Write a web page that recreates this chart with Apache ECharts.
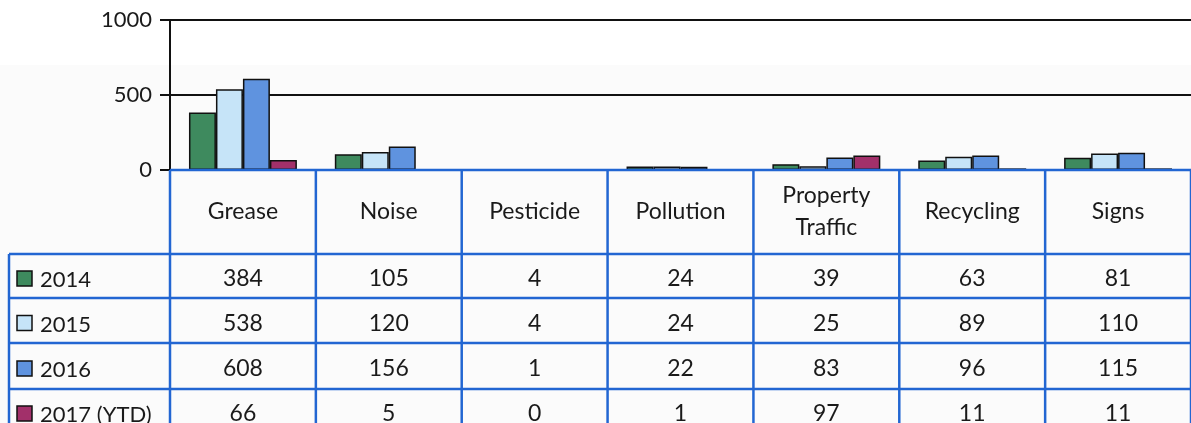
<!DOCTYPE html>
<html>
<head>
<meta charset="utf-8">
<script src="https://cdn.jsdelivr.net/npm/echarts@6/dist/echarts.min.js"></script>
<style>
  html, body { margin: 0; padding: 0; background: #fff; }
  #chart { width: 1191px; height: 423px; }
</style>
</head>
<body>
<div id="chart"></div>
<script>
  var categories = ['Grease', 'Noise', 'Pesticide', 'Pollution', 'Property\nTraffic', 'Recycling', 'Signs'];
  var years = ['2014', '2015', '2016', '2017 (YTD)'];
  var v2014 = [384, 105, 4, 24, 39, 63, 81];
  var v2015 = [538, 120, 4, 24, 25, 89, 110];
  var v2016 = [608, 156, 1, 22, 83, 96, 115];
  var v2017 = [66, 5, 0, 1, 97, 11, 11];
  var yTicks = [0, 500, 1000];

  var rows = [v2014, v2015, v2016, v2017];
  var colors = ['#3e8a5e', '#c6e4f8', '#5f93df', '#a2306a'];
  var tableBlue = '#2266d2';
  var font = 'Lato, "Open Sans", sans-serif';

  var myChart = echarts.init(document.getElementById('chart'));

  var series = years.map(function (y, i) {
    return {
      name: y,
      type: 'bar',
      data: rows[i],
      barGap: '0%',
      barCategoryGap: '26%',
      itemStyle: { color: colors[i], borderColor: '#111', borderWidth: 1.5 }
    };
  });

  var option = {
    animation: false,
    backgroundColor: '#fff',
    grid: { left: 170, top: 20, width: 1022, height: 150 },
    xAxis: {
      type: 'category',
      data: categories,
      axisLine: { show: false },
      axisTick: { show: false },
      axisLabel: { show: false }
    },
    yAxis: {
      type: 'value',
      min: yTicks[0],
      max: yTicks[yTicks.length - 1],
      interval: 500,
      axisLine: { show: true, lineStyle: { color: '#111', width: 2 } },
      axisTick: { show: true, length: 10, lineStyle: { color: '#111', width: 2 } },
      splitLine: { show: true, lineStyle: { color: '#111', width: 2 } },
      axisLabel: { fontSize: 22, color: '#1a1a1a', fontFamily: font, margin: 18, formatter: function (v) { return String(v); } }
    },
    series: series
  };
  myChart.setOption(option);

  // data table under the plot, columns lined up with the category axis
  var x0 = myChart.convertToPixel({ xAxisIndex: 0 }, 0);
  var x1 = myChart.convertToPixel({ xAxisIndex: 0 }, 1);
  var band = x1 - x0;
  var tableTop = myChart.convertToPixel({ yAxisIndex: 0 }, 0);
  var headerBottom = 254;
  var rowLines = [254, 298, 343, 389, 433];
  var leftEdge = 9;
  var rightEdge = 1191;
  var lineW = 2.5;

  var g = [];
  g.push({ type: 'rect', z: -10, shape: { x: 0, y: 65, width: 1191, height: 358 }, style: { fill: '#fbfbfb' }, silent: true });

  // horizontal borders
  g.push({ type: 'line', z: 50, shape: { x1: x0 - band / 2, y1: tableTop, x2: rightEdge, y2: tableTop }, style: { stroke: tableBlue, lineWidth: lineW } });
  rowLines.forEach(function (y) {
    g.push({ type: 'line', z: 50, shape: { x1: leftEdge, y1: y, x2: rightEdge, y2: y }, style: { stroke: tableBlue, lineWidth: lineW } });
  });
  // vertical borders
  g.push({ type: 'line', z: 50, shape: { x1: leftEdge, y1: headerBottom, x2: leftEdge, y2: 423 }, style: { stroke: tableBlue, lineWidth: lineW } });
  for (var c = 0; c <= categories.length; c++) {
    var bx = x0 - band / 2 + c * band;
    g.push({ type: 'line', z: 50, shape: { x1: bx, y1: tableTop, x2: bx, y2: 423 }, style: { stroke: tableBlue, lineWidth: lineW } });
  }

  // header row
  categories.forEach(function (name, i) {
    var cx = myChart.convertToPixel({ xAxisIndex: 0 }, i);
    g.push({
      type: 'text', z: 60, x: cx, y: (tableTop + headerBottom) / 2,
      style: { text: name, fill: '#1a1a1a', font: '23px ' + font, align: 'center', verticalAlign: 'middle', lineHeight: 32 }
    });
  });

  // value rows
  years.forEach(function (y, r) {
    var cy = (rowLines[r] + rowLines[r + 1]) / 2 + 3;
    g.push({ type: 'rect', z: 60, shape: { x: 17, y: cy - 8, width: 15, height: 15 }, style: { fill: colors[r], stroke: '#111', lineWidth: 1.5 } });
    g.push({
      type: 'text', z: 60, x: 40, y: cy + 1,
      style: { text: y, fill: '#1a1a1a', font: '22px ' + font, align: 'left', verticalAlign: 'middle' }
    });
    rows[r].forEach(function (v, i) {
      var cx = myChart.convertToPixel({ xAxisIndex: 0 }, i);
      g.push({
        type: 'text', z: 60, x: cx, y: cy,
        style: { text: String(v), fill: '#1a1a1a', font: '23px ' + font, align: 'center', verticalAlign: 'middle' }
      });
    });
  });

  myChart.setOption({ graphic: g });
</script>
</body>
</html>
